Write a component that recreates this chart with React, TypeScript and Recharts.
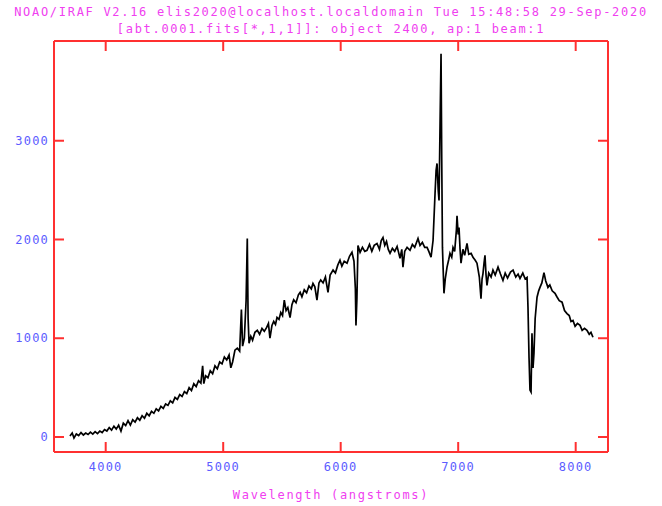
import React from 'react'
import { LineChart, Line, XAxis, YAxis } from 'recharts'

// wavelength (angstroms) and flux
const wavelength = [
  3696, 3715, 3730, 3750, 3770, 3790, 3810, 3830, 3850, 3870, 3890, 3910, 3930, 3950, 3970, 3990,
  4010, 4030, 4050, 4070, 4090, 4110, 4130, 4150, 4170, 4190, 4210, 4230, 4250, 4270, 4290, 4310,
  4330, 4350, 4370, 4390, 4410, 4430, 4450, 4470, 4490, 4510, 4530, 4550, 4570, 4590, 4610, 4630,
  4650, 4670, 4690, 4710, 4730, 4750, 4770, 4790, 4810, 4825, 4835, 4850, 4870, 4890, 4910, 4930,
  4950, 4970, 4990, 5010, 5030, 5050, 5065, 5080, 5100, 5120, 5140, 5155, 5165, 5180, 5195, 5205,
  5212, 5220, 5235, 5250, 5270, 5290, 5310, 5330, 5350, 5370, 5385, 5398, 5415, 5430, 5445, 5458,
  5475, 5490, 5505, 5520, 5535, 5550, 5569, 5585, 5600, 5620, 5640, 5655, 5670, 5690, 5710, 5730,
  5750, 5764, 5780, 5798, 5815, 5830, 5850, 5870, 5892, 5910, 5935, 5955, 5975, 5994, 6010, 6030,
  6054, 6075, 6096, 6113, 6125, 6130, 6138, 6147, 6165, 6185, 6205, 6224, 6245, 6265, 6285, 6309,
  6330, 6345, 6360, 6375, 6390, 6405, 6420, 6440, 6460, 6480, 6505, 6520, 6530, 6545, 6565, 6590,
  6610, 6630, 6658, 6675, 6695, 6715, 6735, 6750, 6769, 6786, 6803, 6812, 6820, 6830, 6837, 6846,
  6854, 6860, 6866, 6872, 6879, 6890, 6905, 6920, 6930, 6945, 6956, 6970, 6985, 6990, 7000, 7007,
  7016, 7024, 7040, 7055, 7075, 7090, 7110, 7126, 7145, 7160, 7180, 7194, 7203, 7211, 7220, 7228,
  7237, 7245, 7260, 7280, 7296, 7315, 7339, 7360, 7381, 7400, 7420, 7445, 7467, 7490, 7510, 7526,
  7550, 7570, 7586, 7594, 7603, 7611, 7620, 7628, 7637, 7645, 7655, 7671, 7685, 7696, 7712, 7730,
  7745, 7764, 7780, 7800, 7824, 7840, 7860, 7884, 7905, 7926, 7945, 7960, 7977, 7995, 8015, 8037,
  8055, 8075, 8096, 8115, 8130, 8147,
]

const flux = [
  10, 40, -10, 30, 15, 45, 20, 40, 25, 50, 30, 55, 35, 60, 45, 75,
  60, 95, 70, 110, 80, 120, 60, 140, 115, 165, 120, 175, 150, 195, 170, 215,
  190, 240, 215, 260, 240, 285, 265, 310, 290, 335, 320, 365, 345, 400, 380, 430,
  410, 460, 440, 500, 470, 540, 510, 570, 545, 720, 540, 620, 600, 670, 640, 720,
  690, 760, 740, 810, 780, 830, 700, 760, 880, 900, 870, 1290, 920, 1000, 1385, 2010,
  1200, 950, 1020, 980, 1060, 1080, 1040, 1100, 1070, 1110, 1150, 1000, 1130, 1170, 1140, 1210,
  1190, 1260, 1230, 1385, 1280, 1310, 1210, 1340, 1390, 1360, 1440, 1465, 1420, 1490, 1460, 1530,
  1500, 1555, 1520, 1385, 1560, 1590, 1560, 1620, 1465, 1640, 1690, 1660, 1740, 1790, 1730, 1780,
  1760, 1830, 1870, 1780, 1500, 1130, 1400, 1940, 1870, 1920, 1880, 1890, 1950, 1880, 1940, 1960,
  1900, 1990, 2020, 1940, 1980, 1900, 1860, 1910, 1880, 1930, 1810, 1900, 1720, 1880, 1920, 1890,
  1950, 1920, 2010, 1940, 1970, 1920, 1920, 1880, 1820, 1990, 2465, 2700, 2770, 2500, 2395, 3200,
  3880, 2800, 1920, 1700, 1455, 1600, 1720, 1800, 1860, 1820, 1920, 1880, 2100, 2240, 2050, 2120,
  1900, 1760, 1900, 1840, 1960, 1850, 1860, 1820, 1790, 1760, 1620, 1400, 1600, 1655, 1760, 1840,
  1640, 1535, 1660, 1620, 1690, 1640, 1720, 1650, 1585, 1660, 1610, 1670, 1690, 1620, 1650, 1605,
  1660, 1600, 1615, 1315, 800, 475, 455, 1050, 700, 850, 1200, 1415, 1480, 1515, 1560, 1665,
  1580, 1515, 1540, 1480, 1455, 1420, 1380, 1365, 1280, 1250, 1230, 1170, 1180, 1120, 1150, 1130,
  1080, 1100, 1080, 1040, 1060, 1010,
]

const xTicks = [4000, 5000, 6000, 7000, 8000]
const yTicks = [0, 1000, 2000, 3000]

const titleLine1 = 'NOAO/IRAF V2.16 elis2020@localhost.localdomain Tue 15:48:58 29-Sep-2020'
const titleLine2 = '[abt.0001.fits[*,1,1]]: object 2400, ap:1 beam:1'
const xLabel = 'Wavelength (angstroms)'

const RED = '#ff3030'
const BLUE = '#5c5cff'
const MAGENTA = '#f040f0'
const MONO = '"DejaVu Sans Mono", "Liberation Mono", monospace'

const data = wavelength.map((w, i) => ({ w, f: flux[i] }))

const tickText = { fill: BLUE, fontSize: 12, fontFamily: MONO, letterSpacing: 1.2 }
// top/right axes only carry the inward tick marks, no labels
const noLabel = () => <g />

const textLine = (top: number): React.CSSProperties => ({
  position: 'absolute',
  left: 0,
  width: 662,
  top,
  textAlign: 'center',
  color: MAGENTA,
  fontFamily: MONO,
  fontSize: 12,
  letterSpacing: 1.7,
  lineHeight: '14px',
  whiteSpace: 'pre',
})

export default function App() {
  return (
    <div style={{ position: 'absolute', left: 0, top: 0, width: 662, height: 506, background: '#fff' }}>
      <div style={textLine(5)}>{titleLine1}</div>
      <div style={textLine(22)}>{titleLine2}</div>
      <LineChart
        width={662}
        height={506}
        data={data}
        margin={{ top: 40, right: 53, bottom: 53, left: 53 }}
      >
        <XAxis
          xAxisId="bottom"
          dataKey="w"
          type="number"
          domain={[3560, 8275]}
          ticks={xTicks}
          allowDataOverflow
          height={1}
          orientation="bottom"
          stroke={RED}
          strokeWidth={2}
          tickSize={-10}
          tickMargin={20}
          tick={tickText}
        />
        <XAxis
          xAxisId="top"
          dataKey="w"
          type="number"
          domain={[3560, 8275]}
          ticks={xTicks}
          allowDataOverflow
          height={1}
          orientation="top"
          stroke={RED}
          strokeWidth={2}
          tickSize={-10}
          tick={noLabel}
        />
        <YAxis
          yAxisId="left"
          type="number"
          domain={[-152, 4010]}
          ticks={yTicks}
          allowDataOverflow
          width={1}
          orientation="left"
          stroke={RED}
          strokeWidth={2}
          tickSize={-10}
          tickMargin={15}
          tick={tickText}
        />
        <YAxis
          yAxisId="right"
          type="number"
          domain={[-152, 4010]}
          ticks={yTicks}
          allowDataOverflow
          width={1}
          orientation="right"
          stroke={RED}
          strokeWidth={2}
          tickSize={-10}
          tick={noLabel}
        />
        <Line
          xAxisId="bottom"
          yAxisId="left"
          type="linear"
          dataKey="f"
          stroke="#000"
          strokeWidth={1.7}
          dot={false}
          isAnimationActive={false}
        />
      </LineChart>
      <div style={textLine(488)}>{xLabel}</div>
    </div>
  )
}
